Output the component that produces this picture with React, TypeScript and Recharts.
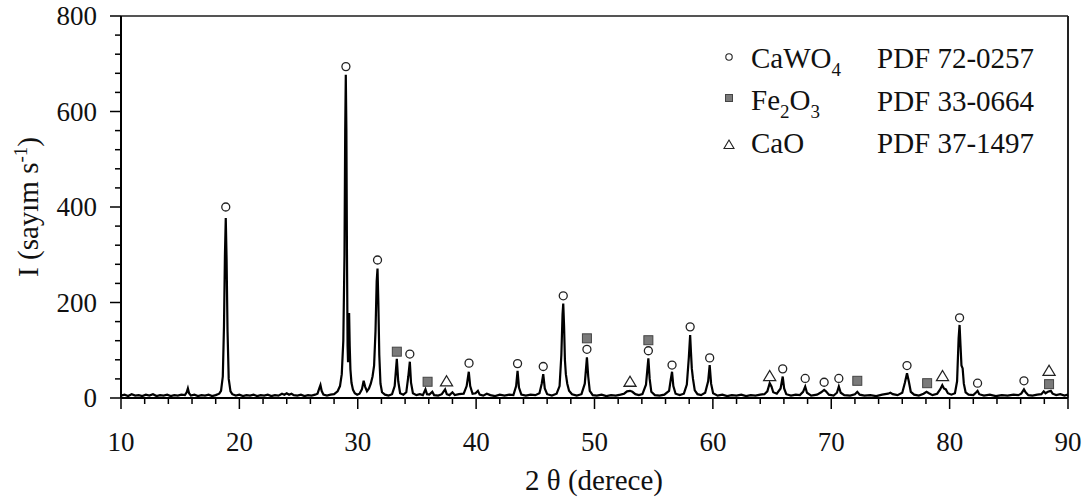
import React from 'react';
import { ComposedChart, Line, Scatter, XAxis, YAxis, ReferenceLine } from 'recharts';

type Pt = [number, number];

// diffraction scan, split by 2θ range: [2θ, counts/s]
const scanLow: Pt[] = [
  [10.0, 5], [10.3, 7], [10.6, 4], [10.9, 8], [11.2, 5], [11.5, 6], [11.8, 4], [12.1, 7], [12.4, 5], [12.7, 8],
  [13.0, 4], [13.3, 6], [13.6, 5], [13.9, 7], [14.2, 4], [14.5, 6], [14.8, 5], [15.1, 7], [15.4, 6], [15.55, 12],
  [15.65, 20], [15.75, 10], [15.9, 5], [16.2, 7], [16.5, 4], [16.8, 6], [17.1, 5], [17.4, 7], [17.7, 4], [18.0, 6],
  [18.3, 9], [18.45, 15], [18.6, 45], [18.7, 150], [18.78, 300], [18.85, 377], [18.92, 290], [19.0, 140], [19.1, 40],
  [19.25, 14], [19.4, 8], [19.7, 5], [20.0, 7], [20.3, 4], [20.6, 6], [20.9, 5], [21.2, 7], [21.5, 4], [21.8, 6],
  [22.1, 5], [22.4, 7], [22.7, 4], [23.0, 6], [23.3, 5], [23.6, 9], [23.8, 7], [24.0, 10], [24.2, 7], [24.4, 9],
  [24.6, 6], [24.9, 5], [25.2, 7], [25.5, 4], [25.8, 6], [26.1, 5], [26.4, 7], [26.6, 9], [26.75, 20], [26.85, 27],
  [26.95, 15], [27.1, 7], [27.4, 5], [27.7, 7], [28.0, 8], [28.3, 14],
];

const scanMain: Pt[] = [
  [28.5, 25], [28.65, 50], [28.78, 120], [28.88, 300], [28.94, 560], [28.99, 677], [29.04, 560], [29.09, 300],
  [29.14, 110], [29.18, 75], [29.22, 120], [29.27, 178], [29.32, 110], [29.38, 60], [29.47, 32], [29.6, 17],
  [29.75, 10], [29.95, 7], [30.15, 9], [30.35, 18], [30.5, 36], [30.62, 24], [30.78, 14], [30.95, 20], [31.1, 30],
  [31.25, 45], [31.38, 68], [31.5, 140], [31.6, 245], [31.67, 271], [31.74, 200], [31.82, 90], [31.92, 30],
  [32.05, 12], [32.3, 7],
];

const scanMid: Pt[] = [
  [32.6, 5], [32.9, 8], [33.12, 25], [33.3, 82], [33.42, 35], [33.58, 10], [33.85, 7], [34.1, 12], [34.27, 45],
  [34.4, 76], [34.5, 32], [34.66, 10], [34.95, 6], [35.25, 8], [35.5, 6], [35.72, 18], [35.85, 8], [36.05, 7],
  [36.3, 13], [36.45, 6], [36.8, 5], [37.1, 8], [37.38, 18], [37.52, 8], [37.75, 6], [38.0, 12], [38.2, 6],
  [38.55, 8], [38.95, 9], [39.2, 25], [39.38, 55], [39.5, 25], [39.7, 9], [39.95, 10], [40.15, 15], [40.3, 7],
  [40.6, 5], [40.9, 9], [41.2, 6], [41.6, 4], [42.0, 7], [42.4, 5], [42.8, 7], [43.15, 6], [43.38, 25], [43.5, 57],
  [43.62, 22], [43.82, 7], [44.2, 5], [44.6, 7], [45.0, 6], [45.35, 10], [45.54, 30], [45.67, 50], [45.8, 20],
  [46.0, 8], [46.4, 5], [46.8, 9], [47.05, 25], [47.2, 90], [47.3, 175], [47.36, 198], [47.43, 150], [47.5, 80],
  [47.58, 50], [47.7, 30], [47.85, 15], [48.1, 8], [48.5, 5], [48.9, 8], [49.18, 30], [49.36, 85], [49.47, 45],
  [49.6, 15], [49.85, 6], [50.2, 5], [50.6, 7], [51.0, 4], [51.4, 6], [51.8, 5], [52.2, 7], [52.5, 9], [52.75, 14],
  [53.0, 15], [53.2, 13], [53.45, 8], [53.75, 6], [54.05, 8], [54.35, 28], [54.55, 83], [54.66, 40], [54.8, 13],
  [55.1, 6], [55.5, 5], [55.9, 7], [56.3, 15], [56.45, 40], [56.55, 55], [56.66, 25], [56.85, 9], [57.2, 6],
  [57.55, 9], [57.8, 28], [57.97, 85], [58.08, 132], [58.15, 95], [58.22, 62], [58.32, 40], [58.47, 16], [58.7, 8],
  [59.0, 6], [59.35, 11], [59.6, 35], [59.73, 69], [59.85, 30], [60.02, 10], [60.4, 5],
];

const scanHigh: Pt[] = [
  [60.8, 7], [61.2, 4], [61.6, 6], [62.0, 5], [62.4, 7], [62.8, 4], [63.2, 6], [63.6, 5], [64.0, 7], [64.35, 8],
  [64.6, 14], [64.8, 31], [64.95, 24], [65.1, 12], [65.4, 9], [65.72, 20], [65.9, 45], [66.02, 20], [66.2, 8],
  [66.6, 5], [67.0, 7], [67.35, 6], [67.62, 13], [67.8, 24], [67.95, 11], [68.3, 5], [68.8, 7], [69.15, 12],
  [69.4, 17], [69.55, 14], [69.8, 7], [70.2, 5], [70.48, 11], [70.64, 24], [70.8, 11], [71.1, 6], [71.6, 5],
  [72.0, 8], [72.2, 13], [72.4, 7], [72.8, 5], [73.3, 6], [73.8, 4], [74.3, 7], [74.8, 9], [75.0, 11], [75.2, 8],
  [75.6, 6], [76.0, 11], [76.22, 32], [76.4, 52], [76.55, 35], [76.72, 13], [77.0, 7], [77.4, 5], [77.8, 9],
  [78.05, 13], [78.25, 10], [78.55, 6], [78.95, 9], [79.2, 18], [79.38, 27], [79.52, 20], [79.68, 18], [79.85, 10],
  [80.15, 7], [80.45, 10], [80.63, 35], [80.76, 125], [80.84, 153], [80.92, 110], [81.0, 68], [81.1, 62],
  [81.2, 30], [81.35, 12], [81.6, 7], [82.0, 6], [82.25, 12], [82.36, 15], [82.5, 8], [82.9, 5], [83.4, 7],
  [83.9, 4], [84.4, 6], [84.9, 5], [85.4, 7], [85.8, 6], [86.05, 9], [86.28, 18], [86.42, 12], [86.65, 6],
  [87.0, 5], [87.4, 7], [87.75, 8], [87.95, 14], [88.1, 10], [88.3, 13], [88.55, 15], [88.7, 9], [89.0, 6],
  [89.35, 8], [89.7, 5], [90.0, 7],
];

// phase identification marks, placed just above the peaks
const cawo4Marks: Pt[] = [
  [18.85, 400], [29.0, 694], [31.67, 289], [34.4, 92], [39.4, 73], [43.5, 72], [45.67, 66], [47.36, 214],
  [49.36, 102], [54.55, 99], [56.55, 69], [58.08, 149], [59.73, 84], [65.9, 61], [67.8, 41], [69.4, 33],
  [70.64, 41], [76.4, 68], [80.84, 168], [82.36, 31], [86.28, 36],
];
const fe2o3Marks: Pt[] = [
  [33.3, 97], [35.9, 34], [49.36, 125], [54.55, 121], [72.2, 36], [78.1, 31], [88.4, 29],
];
const caoMarks: Pt[] = [
  [37.5, 35], [53.0, 34], [64.8, 46], [79.4, 46], [88.4, 57],
];

const phaseCards = ['PDF 72-0257', 'PDF 33-0664', 'PDF 37-1497'];

const xTicks = Array.from({ length: 41 }, (_, k) => 10 + k * 2);
const yTicks = Array.from({ length: 21 }, (_, k) => k * 40);

const serif = { fontFamily: "'Liberation Serif', 'Times New Roman', Times, serif" };

const toRows = (pts: Pt[]) => pts.map(([tt, i]) => ({ tt, i }));
const scan = toRows([...scanLow, ...scanMain, ...scanMid, ...scanHigh]);

const XTick = ({ x, y, payload }: any) => {
  const major = payload.value % 10 === 0;
  return (
    <g>
      <line x1={x} x2={x} y1={y} y2={y + (major ? 11 : 6)} stroke="#000" strokeWidth={1.5} />
      {major && (
        <text x={x} y={y + 53} textAnchor="middle" fontSize={27} style={serif} fill="#111">
          {payload.value}
        </text>
      )}
    </g>
  );
};

const YTick = ({ x, y, payload }: any) => {
  const major = payload.value % 200 === 0;
  return (
    <g>
      <line x1={x - (major ? 11 : 6)} x2={x} y1={y} y2={y} stroke="#000" strokeWidth={1.5} />
      {major && (
        <text x={x - 24} y={y + 9} textAnchor="end" fontSize={27} style={serif} fill="#111">
          {payload.value}
        </text>
      )}
    </g>
  );
};

const CircleMark = ({ cx, cy }: any) => (
  <circle cx={cx} cy={cy} r={4} fill="#fff" stroke="#222" strokeWidth={1.3} />
);
const SquareMark = ({ cx, cy }: any) => (
  <rect x={cx - 4.5} y={cy - 4.5} width={9} height={9} fill="#7a7a7a" stroke="#444" strokeWidth={1} />
);
const TriangleMark = ({ cx, cy }: any) => (
  <path d={`M${cx},${cy - 5.5}L${cx + 6},${cy + 4.5}L${cx - 6},${cy + 4.5}Z`} fill="#fff" stroke="#222" strokeWidth={1.3} />
);

const PhaseKey = () => (
  <g style={serif} fontSize={29} fill="#111">
    <circle cx={729} cy={57} r={3.2} fill="#fff" stroke="#222" strokeWidth={1.1} />
    <text x={751} y={68} style={serif}>
      CaWO<tspan dy={8} fontSize={19}>4</tspan>
    </text>
    <rect x={725.5} y={94.5} width={7} height={7} fill="#7a7a7a" stroke="#444" strokeWidth={1} />
    <text x={751} y={110} style={serif}>
      Fe<tspan dy={8} fontSize={19}>2</tspan>
      <tspan dy={-8}>O</tspan>
      <tspan dy={8} fontSize={19}>3</tspan>
    </text>
    <path d="M729,140L734,148.5L724,148.5Z" fill="#fff" stroke="#222" strokeWidth={1.1} />
    <text x={751} y={153} style={serif}>CaO</text>
    {phaseCards.map((c, k) => (
      <text key={c} x={877} y={68 + k * 42.5} style={serif}>
        {c}
      </text>
    ))}
  </g>
);

const AxisTitles = () => (
  <g fontSize={29} fill="#111">
    <text x={594} y={490} textAnchor="middle" style={serif}>
      2 θ (derece)
    </text>
    <text x={38} y={207} textAnchor="middle" transform="rotate(-90, 38, 207)" style={serif}>
      I (sayım s<tspan dy={-11} fontSize={19}>-1</tspan>
      <tspan dy={11}>)</tspan>
    </text>
  </g>
);

export default function App() {
  return (
    <div style={{ position: 'absolute', left: 0, top: 0, width: 1091, height: 503, background: '#fff' }}>
      <ComposedChart width={1091} height={503} margin={{ top: 16, right: 23, bottom: 65, left: 61 }}>
        <XAxis
          type="number"
          dataKey="tt"
          domain={[10, 90]}
          ticks={xTicks}
          interval={0}
          tickSize={0}
          tickMargin={0}
          tickLine={false}
          tick={<XTick />}
          height={40}
          axisLine={{ stroke: '#000', strokeWidth: 2 }}
        />
        <YAxis
          type="number"
          dataKey="i"
          domain={[0, 800]}
          ticks={yTicks}
          interval={0}
          tickSize={0}
          tickMargin={0}
          tickLine={false}
          tick={<YTick />}
          width={60}
          axisLine={{ stroke: '#000', strokeWidth: 2 }}
        />
        <ReferenceLine y={800} stroke="#555" strokeWidth={2} />
        <ReferenceLine x={90} stroke="#222" strokeWidth={2} />
        <Line
          data={scan}
          dataKey="i"
          type="linear"
          stroke="#000"
          strokeWidth={2.2}
          dot={false}
          isAnimationActive={false}
        />
        <Scatter data={toRows(cawo4Marks)} dataKey="i" shape={<CircleMark />} isAnimationActive={false} />
        <Scatter data={toRows(fe2o3Marks)} dataKey="i" shape={<SquareMark />} isAnimationActive={false} />
        <Scatter data={toRows(caoMarks)} dataKey="i" shape={<TriangleMark />} isAnimationActive={false} />
        <PhaseKey />
        <AxisTitles />
      </ComposedChart>
    </div>
  );
}
